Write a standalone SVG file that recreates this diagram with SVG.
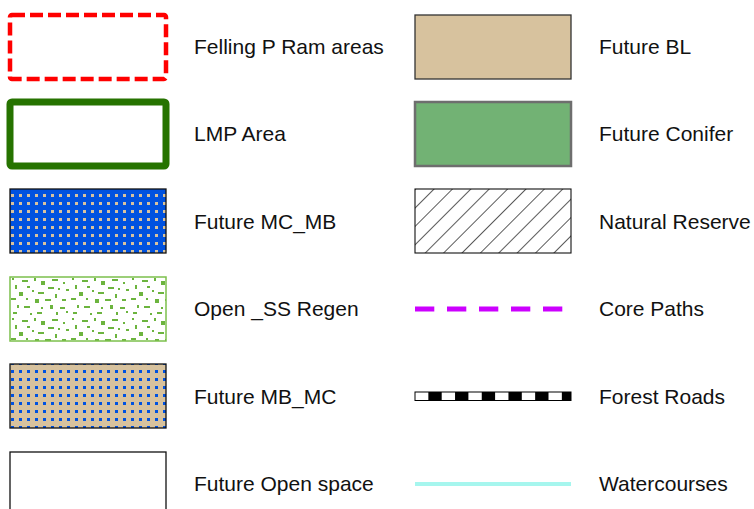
<svg xmlns="http://www.w3.org/2000/svg" width="754" height="509" viewBox="0 0 754 509">
<style>
  text { font-family: "Liberation Sans", Arial, sans-serif; font-size: 21px; fill: #111; }
</style>
<defs>
  <pattern id="dotsTan" x="11" y="194" width="8" height="8" patternUnits="userSpaceOnUse">
    <rect width="8" height="8" fill="#0052e0"/>
    <rect x="0" y="0" width="3" height="3" fill="#d7c29e"/>
  </pattern>
  <pattern id="dotsBlue" x="11" y="370" width="8" height="8" patternUnits="userSpaceOnUse">
    <rect width="8" height="8" fill="#d7c29e"/>
    <rect x="0" y="0" width="3" height="3" fill="#0052e0"/>
  </pattern>
  <pattern id="hatch" width="13" height="13" patternUnits="userSpaceOnUse" patternTransform="translate(415 189) rotate(45)">
    <line x1="0" y1="0" x2="0" y2="13" stroke="#000" stroke-width="1.3"/>
  </pattern>
  <pattern id="speckle" x="10" y="277" width="60" height="40" patternUnits="userSpaceOnUse">
    <rect width="60" height="40" fill="#fff"/>
    <g fill="#6cb43e">
      <rect x="2" y="1" width="2" height="2"/>
      <rect x="12" y="3" width="6" height="2"/>
      <rect x="24" y="1" width="2" height="3"/>
      <rect x="31" y="4" width="4" height="4"/>
      <rect x="42" y="2" width="6" height="2"/>
      <rect x="53" y="5" width="2" height="2"/>
      <rect x="5" y="8" width="2" height="4"/>
      <rect x="17" y="9" width="3" height="2"/>
      <rect x="38" y="10" width="6" height="2"/>
      <rect x="48" y="11" width="2" height="2"/>
      <rect x="56" y="12" width="3" height="2"/>
      <rect x="9" y="15" width="4" height="4"/>
      <rect x="22" y="13" width="2" height="2"/>
      <rect x="28" y="15" width="6" height="2"/>
      <rect x="45" y="17" width="2" height="4"/>
      <rect x="1" y="21" width="5" height="2"/>
      <rect x="16" y="21" width="2" height="2"/>
      <rect x="25" y="22" width="4" height="4"/>
      <rect x="35" y="22" width="6" height="2"/>
      <rect x="52" y="22" width="4" height="2"/>
      <rect x="7" y="28" width="2" height="3"/>
      <rect x="14" y="29" width="6" height="2"/>
      <rect x="31" y="30" width="2" height="2"/>
      <rect x="40" y="28" width="3" height="4"/>
      <rect x="50" y="30" width="5" height="2"/>
      <rect x="3" y="35" width="4" height="2"/>
      <rect x="20" y="36" width="2" height="2"/>
      <rect x="27" y="35" width="5" height="2"/>
      <rect x="46" y="35" width="2" height="3"/>
      <rect x="56" y="34" width="2" height="2"/>
    </g>
  </pattern>
</defs>

<g id="felling">
  <rect x="10" y="15" width="156" height="64" rx="2" fill="#fff" stroke="#ff0000" stroke-width="4.5" stroke-dasharray="13 5"/>
  <text x="194" y="54">Felling P Ram areas</text>
</g>
<g id="lmp">
  <rect x="10" y="102" width="156" height="64" rx="2" fill="#fff" stroke="#267300" stroke-width="7"/>
  <text x="194" y="141">LMP Area</text>
</g>
<g id="mcmb">
  <rect x="10" y="189" width="156" height="64" fill="url(#dotsTan)" stroke="#111" stroke-width="1.3"/>
  <text x="194" y="229">Future MC_MB</text>
</g>
<g id="openss">
  <rect x="10" y="277" width="156" height="64" fill="url(#speckle)" stroke="#7cc04c" stroke-width="1.5"/>
  <text x="194" y="316">Open _SS Regen</text>
</g>
<g id="mbmc">
  <rect x="10" y="364" width="156" height="64" fill="url(#dotsBlue)" stroke="#111" stroke-width="1.3"/>
  <text x="194" y="404">Future MB_MC</text>
</g>
<g id="openspace">
  <rect x="10" y="452" width="156" height="64" fill="#fff" stroke="#111" stroke-width="1.3"/>
  <text x="194" y="491">Future Open space</text>
</g>

<g id="futurebl">
  <rect x="415" y="15" width="156" height="64" fill="#d7c29e" stroke="#333" stroke-width="1.3"/>
  <text x="599" y="54">Future BL</text>
</g>
<g id="conifer">
  <rect x="415" y="102" width="156" height="64" fill="#72b274" stroke="#6e6e6e" stroke-width="2.5"/>
  <text x="599" y="141">Future Conifer</text>
</g>
<g id="reserve">
  <rect x="415" y="189" width="156" height="64" fill="url(#hatch)" stroke="#111" stroke-width="1.1"/>
  <text x="599" y="229">Natural Reserve</text>
</g>
<g id="corepaths">
  <line x1="415" y1="309" x2="563" y2="309" stroke="#cc00ff" stroke-width="5" stroke-dasharray="19.3 12.7"/>
  <text x="599" y="316">Core Paths</text>
</g>
<g id="forestroads">
  <rect x="415" y="392" width="156" height="8.5" fill="#fff" stroke="#000" stroke-width="1"/>
  <line x1="415" y1="396.25" x2="571" y2="396.25" stroke="#000" stroke-width="8.5" stroke-dasharray="13.35 13.35" stroke-dashoffset="13.35"/>
  <text x="599" y="404">Forest Roads</text>
</g>
<g id="watercourses">
  <line x1="415" y1="484" x2="571" y2="484" stroke="#a6f6ee" stroke-width="4"/>
  <text x="599" y="491">Watercourses</text>
</g>
</svg>
